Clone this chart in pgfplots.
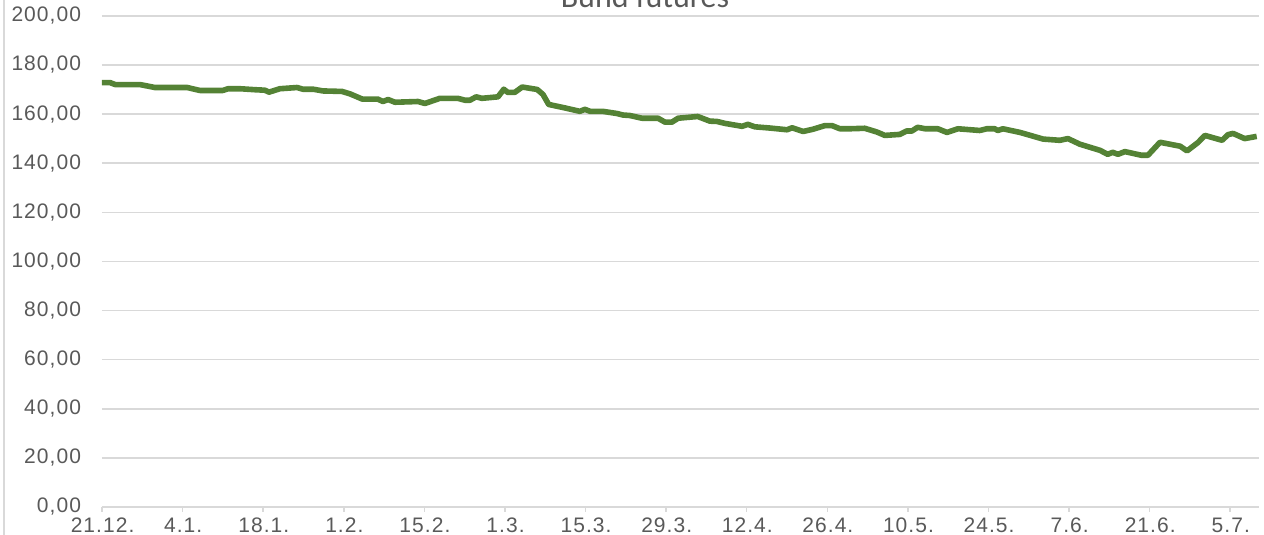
\documentclass[border=0pt]{standalone}
\usepackage{fontspec}
\setmainfont{Liberation Sans}
\newfontfamily\tickfont[LetterSpace=5]{Liberation Sans}
\newfontfamily\titlefont{Carlito}
\usepackage{pgfplots}
\pgfplotsset{compat=1.18}
\definecolor{lbl}{HTML}{595959}
\definecolor{grd}{HTML}{D9D9D9}
\definecolor{bund}{HTML}{548235}
\begin{document}
\begin{tikzpicture}
\begin{axis}[
  scale only axis,
  width=578.5pt, height=245.6pt,
  xmin=0, xmax=201, ymin=0, ymax=200,
  axis line style={draw=none},
  ymajorgrids, grid style={grd, line width=0.75pt},
  xtick={0,14,...,196},
  xticklabels={21.12.,4.1.,18.1.,1.2.,15.2.,1.3.,15.3.,29.3.,12.4.,26.4.,10.5.,24.5.,7.6.,21.6.,5.7.},
  xtick pos=left, tick align=outside, major tick length=2.5pt,
  xtick style={grd, line width=0.75pt},
  ytick={0,20,...,200},
  ytick style={draw=none},
  tick label style={font=\tickfont\fontsize{10.5}{12}\selectfont, text=lbl,
    /pgf/number format/assume math mode=true},
  y tick label style={/pgf/number format/fixed, /pgf/number format/fixed zerofill,
    /pgf/number format/precision=2, /pgf/number format/use comma, inner sep=0pt},
  yticklabel shift=7.8pt,
  x tick label style={inner sep=0pt, yshift=-2.6pt, xshift=0.3pt},
  clip=false,
]
\addplot[bund, line width=2.8pt, line join=round] coordinates {
(0,172.8) (1.4,172.8) (2.3,172.0) (6.6,172.0) (9.2,170.8) (14.8,170.8) (17.0,169.6)
(21.0,169.6) (21.9,170.3) (24.0,170.3) (26.6,169.9) (28.3,169.7) (29.0,168.9) (30.9,170.3)
(33.9,170.8) (34.9,170.1) (36.7,170.1) (38.4,169.4) (41.7,169.2) (43.1,168.2) (45.2,166.1)
(47.9,166.1) (48.8,165.1) (49.7,165.9) (50.9,164.8) (54.9,165.1) (56.1,164.3) (58.7,166.4)
(61.8,166.4) (63.1,165.6) (63.9,165.6) (65.0,167.0) (66.0,166.4) (68.8,167.0) (69.8,170.1)
(70.5,168.8) (71.7,168.8) (73.0,171.0) (75.6,170.0) (76.6,168.0) (77.6,163.9) (80.4,162.5)
(83.0,161.1) (83.9,161.9) (84.8,161.1) (87.0,161.1) (89.5,160.2) (90.5,159.6) (91.7,159.4)
(93.8,158.3) (96.6,158.3) (97.8,156.7) (99.0,156.7) (100.1,158.3) (103.5,159.0) (105.6,157.1)
(106.8,157.0) (108.2,156.2) (111.2,155.0) (112.2,155.8) (113.4,154.8) (116.0,154.3) (119.0,153.6)
(119.9,154.4) (121.8,152.9) (123.5,153.8) (125.6,155.3) (126.8,155.3) (128.2,154.0) (129.9,154.0)
(132.5,154.2) (134.6,152.7) (136.0,151.3) (138.6,151.7) (139.8,153.1) (140.7,153.1) (141.7,154.6)
(143.0,154.0) (145.2,154.0) (146.8,152.5) (148.7,154.0) (152.5,153.3) (153.7,154.0) (155.1,154.0)
(155.6,153.3) (156.5,154.0) (159.5,152.5) (163.5,149.8) (166.4,149.3) (167.8,150.0) (169.9,147.7)
(173.4,145.2) (174.7,143.6) (175.6,144.4) (176.5,143.6) (177.7,144.7) (180.6,143.2) (181.7,143.2)
(183.8,148.5) (187.3,146.9) (188.5,145.0) (190.4,148.4) (191.6,151.3) (194.6,149.3) (195.6,151.6)
(196.5,152.1) (198.5,150.0) (200.6,150.9)
};
\end{axis}
\node[anchor=base, font=\titlefont\fontsize{16}{18}\selectfont, text=lbl, inner sep=0pt]
  at ([shift={(271.5pt,249.75pt)}]current axis.south west) {Bund futures};
\draw[grd, line width=0.75pt] ([shift={(-49pt,-14pt)}]current axis.south west) -- ++(0,267.5pt);
\pgfresetboundingbox
\path[use as bounding box] ([shift={(-51pt,-14pt)}]current axis.south west) rectangle ++(632pt,267.5pt);
\end{tikzpicture}
\end{document}
